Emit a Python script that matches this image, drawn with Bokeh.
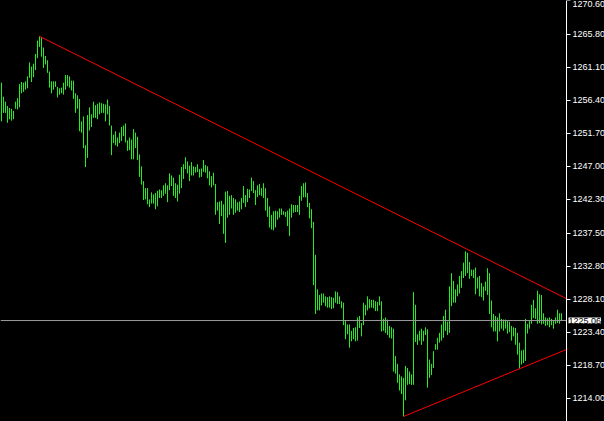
from bokeh.plotting import figure
from bokeh.models import (ColumnDataSource, Range1d, FixedTicker, PrintfTickFormatter,
                          Label, GlobalInlineStyleSheet)
from bokeh.embed import file_html
from bokeh.resources import INLINE

# ---- data (bar highs / lows, oldest first) ----
highs = [
    1258.9, 1256.9, 1256.2, 1255.6, 1255.3, 1255.2, 1254.9, 1256.2, 1256.7, 1258.7,
    1259.0, 1258.9, 1259.1, 1259.8, 1261.8, 1261.2, 1261.6, 1263.0, 1264.9, 1265.5,
    1265.4, 1263.9, 1262.7, 1262.1, 1260.5, 1259.1, 1259.1, 1259.1, 1258.3, 1258.1,
    1258.2, 1258.9, 1260.0, 1260.0, 1259.8, 1259.2, 1259.2, 1257.4, 1257.1, 1256.6,
    1253.4, 1254.1, 1250.0, 1254.3, 1255.4, 1254.4, 1256.2,
    1255.7, 1255.9, 1256.1, 1256.0, 1255.9, 1255.8, 1256.5, 1255.6, 1252.8, 1251.5,
    1252.0, 1251.1, 1251.8, 1252.6, 1252.8, 1253.1, 1250.7, 1251.1, 1250.8, 1252.3,
    1251.8, 1251.2, 1248.7, 1247.0, 1244.9, 1243.9, 1243.9, 1242.3, 1243.3, 1243.0,
    1243.2, 1243.5, 1243.7, 1243.6, 1244.3, 1244.6, 1244.3, 1246.0, 1245.7, 1245.4,
    1244.6, 1244.4, 1245.8, 1246.9, 1247.3, 1248.3, 1247.7, 1247.1,
    1247.6, 1247.0, 1246.9, 1247.3, 1246.6, 1246.7, 1247.9, 1247.2, 1247.0, 1246.3,
    1245.6, 1246.1, 1244.5, 1241.9, 1242.0, 1242.1, 1241.6, 1243.4, 1243.5, 1242.8,
    1242.9, 1242.5, 1242.3, 1241.9, 1242.0, 1242.5, 1244.2, 1242.9, 1243.8, 1243.7,
    1245.4, 1244.9, 1243.6, 1244.3, 1244.5, 1243.9, 1244.6, 1243.9, 1242.5, 1241.3,
    1240.1, 1240.6, 1240.7, 1240.6, 1241.0, 1241.0, 1240.6,
    1240.5, 1240.7, 1241.0, 1241.6, 1241.5, 1241.5, 1241.5, 1242.8, 1244.2, 1244.6,
    1244.7, 1243.2, 1241.8, 1240.9, 1239.1, 1234.4, 1229.5, 1228.7, 1228.9, 1228.9,
    1228.5, 1228.4, 1228.5, 1228.4, 1228.3, 1229.2, 1229.1, 1228.5, 1227.8, 1227.6,
    1225.1, 1224.5, 1224.5, 1223.6, 1224.0, 1224.1, 1225.5, 1225.7, 1224.7, 1227.6,
    1227.3, 1228.5, 1228.1, 1228.0, 1228.0, 1227.8, 1227.7, 1228.5,
    1227.8, 1225.3, 1225.5, 1225.2, 1224.3, 1224.1, 1223.9, 1220.0, 1218.9, 1217.4,
    1217.1, 1216.9, 1218.6, 1218.3, 1217.8, 1217.4, 1229.1, 1227.3, 1223.1, 1223.6,
    1223.9, 1223.6, 1224.1, 1223.8, 1219.5, 1218.9, 1220.7, 1221.7, 1222.6, 1223.3,
    1224.5, 1225.7, 1226.6, 1224.9, 1229.9, 1231.8, 1230.7, 1229.5, 1230.2, 1231.4,
    1232.1, 1233.3, 1234.9, 1234.7, 1233.4, 1232.3, 1232.3,
    1232.6, 1231.2, 1231.4, 1230.4, 1229.9, 1230.6, 1232.5, 1231.8, 1227.9, 1226.0,
    1225.7, 1225.5, 1226.1, 1225.3, 1225.2, 1225.2, 1225.0, 1224.9, 1224.3, 1224.1,
    1224.0, 1223.3, 1221.9, 1220.8, 1220.9, 1225.3, 1224.6, 1225.0, 1227.3, 1228.0,
    1226.8, 1229.3, 1228.8, 1228.7, 1226.1, 1225.5, 1225.4, 1225.5, 1225.3, 1225.0,
    1225.5, 1226.6, 1226.1, 1226.1,
]
lows = [
    1253.4, 1254.6, 1254.6, 1253.2, 1253.7, 1253.5, 1253.7, 1255.2, 1255.1, 1255.4,
    1257.4, 1257.6, 1257.9, 1258.1, 1259.6, 1259.0, 1259.7, 1260.7, 1262.4, 1264.0,
    1262.6, 1261.0, 1261.5, 1260.3, 1258.2, 1257.4, 1257.9, 1258.3, 1256.8, 1257.2,
    1257.4, 1257.2, 1257.9, 1258.4, 1258.2, 1257.8, 1256.6, 1254.6, 1255.2, 1252.0,
    1251.8, 1249.6, 1246.9, 1248.2, 1252.1, 1252.6, 1253.9,
    1253.9, 1253.7, 1254.4, 1254.6, 1254.6, 1253.4, 1254.4, 1252.8, 1248.6, 1250.3,
    1250.0, 1249.8, 1250.3, 1250.6, 1251.3, 1250.4, 1249.2, 1249.3, 1248.0, 1248.0,
    1249.6, 1247.9, 1245.5, 1244.4, 1242.2, 1242.3, 1241.6, 1241.2, 1241.7, 1241.7,
    1240.9, 1241.3, 1242.5, 1242.5, 1242.8, 1243.1, 1241.9, 1243.6, 1244.2, 1242.8,
    1242.5, 1242.0, 1243.1, 1243.9, 1245.2, 1246.6, 1246.0, 1244.9,
    1245.7, 1245.7, 1246.1, 1246.2, 1245.4, 1245.5, 1246.2, 1246.1, 1245.3, 1244.3,
    1244.0, 1244.3, 1240.1, 1240.7, 1238.8, 1239.9, 1237.4, 1236.1, 1239.7, 1240.1,
    1241.0, 1240.1, 1240.4, 1240.7, 1240.5, 1240.9, 1241.8, 1241.2, 1241.9, 1242.5,
    1243.5, 1243.2, 1241.5, 1242.6, 1242.9, 1242.8, 1242.5, 1240.7, 1239.8, 1238.3,
    1238.0, 1237.9, 1238.3, 1239.4, 1239.7, 1240.1, 1240.1,
    1239.8, 1238.5, 1237.1, 1239.7, 1240.4, 1240.5, 1240.5, 1240.1, 1242.1, 1242.6,
    1242.6, 1241.2, 1239.6, 1238.2, 1230.1, 1226.0, 1226.5, 1226.5, 1227.2, 1227.6,
    1227.1, 1226.9, 1226.9, 1226.7, 1226.8, 1227.6, 1227.4, 1227.4, 1226.8, 1224.4,
    1222.4, 1223.1, 1221.2, 1222.1, 1222.4, 1222.1, 1222.2, 1224.0, 1222.8, 1224.4,
    1225.8, 1226.5, 1226.8, 1226.9, 1226.8, 1226.4, 1226.4, 1227.2,
    1223.5, 1223.6, 1223.3, 1223.0, 1222.6, 1222.5, 1217.8, 1217.5, 1216.2, 1215.1,
    1214.6, 1211.4, 1213.7, 1215.9, 1216.0, 1215.9, 1215.9, 1222.0, 1221.6, 1222.2,
    1221.6, 1222.1, 1223.0, 1215.5, 1216.9, 1217.3, 1218.3, 1220.9, 1220.9, 1221.9,
    1222.2, 1222.6, 1223.6, 1223.0, 1223.3, 1227.1, 1227.6, 1227.6, 1228.5, 1228.9,
    1229.7, 1231.1, 1231.4, 1231.8, 1231.0, 1231.4, 1231.1,
    1228.8, 1229.6, 1228.5, 1228.4, 1227.9, 1229.3, 1228.7, 1226.0, 1224.1, 1223.5,
    1223.5, 1222.1, 1223.5, 1223.9, 1223.6, 1223.9, 1223.2, 1223.4, 1222.2, 1222.8,
    1221.6, 1220.2, 1218.2, 1218.8, 1219.0, 1219.3, 1223.2, 1223.9, 1224.6, 1225.4,
    1225.3, 1224.6, 1224.7, 1224.5, 1224.6, 1224.3, 1224.4, 1224.1, 1224.4, 1223.9,
    1224.6, 1224.7, 1224.6, 1225.0,
]
assert len(highs) == len(lows), (len(highs), len(lows))
bar_index = list(range(len(highs)))

# trend lines (bar index, price)
upper_trend_x = [19, 283]
upper_trend_y = [1265.5, 1228.1]
lower_trend_x = [201, 283]
lower_trend_y = [1211.4, 1221.0]

bid_price = 1225.06
price_ticks = [1270.6, 1265.8, 1261.1, 1256.4, 1251.7, 1247.0, 1242.3,
               1237.5, 1232.8, 1228.1, 1223.4, 1218.7, 1214.0]

# chart window: bar slots, the price scale sits right after the last slot
x_start, x_end = -0.5, 301.5
axis_at = 282.5
y_low, y_high = 1210.69, 1270.6

BAR_COLOR = "#22ee22"
LABEL_FONT = "Liberation Sans"
LABEL_SIZE = "9px"

page_css = GlobalInlineStyleSheet(css="html, body { margin:0; padding:0; background:#000; overflow:hidden; }")

p = figure(frame_width=604, frame_height=421,
           x_range=Range1d(x_start, x_end), y_range=Range1d(y_low, y_high),
           x_axis_location=None, y_axis_location="right",
           output_backend="svg", toolbar_location=None,
           background_fill_color="black", border_fill_color="black",
           min_border_left=0, min_border_right=0, min_border_top=0, min_border_bottom=0,
           outline_line_color=None)
p.stylesheets = [page_css]
p.grid.visible = False

src = ColumnDataSource(dict(x=bar_index, high=highs, low=lows))
p.segment(x0="x", y0="low", x1="x", y1="high", source=src,
          line_color=BAR_COLOR, line_width=1)

p.line(upper_trend_x, upper_trend_y, line_color="#ff0000", line_width=1)
p.line(lower_trend_x, lower_trend_y, line_color="#ff0000", line_width=1)

# bid price line up to the price scale
p.segment(x0=[x_start], y0=[bid_price], x1=[axis_at], y1=[bid_price],
          line_color="#9a9a9a", line_width=1)

ax = p.yaxis[0]
ax.fixed_location = axis_at
ax.ticker = FixedTicker(ticks=price_ticks)
ax.formatter = PrintfTickFormatter(format="%.2f")
ax.axis_line_color = "white"
ax.major_tick_line_color = "white"
ax.major_tick_in = 0
ax.major_tick_out = 4
ax.minor_tick_line_color = None
ax.major_label_text_color = "white"
ax.major_label_text_font = LABEL_FONT
ax.major_label_text_font_size = LABEL_SIZE
ax.major_label_standoff = 2

p.add_layout(Label(x=axis_at, y=bid_price, text="%.2f" % bid_price, x_offset=2,
                   text_baseline="middle", text_align="left",
                   text_font=LABEL_FONT, text_font_size=LABEL_SIZE,
                   text_color="black", background_fill_color="white"))

open("out.html", "w").write(file_html(p, INLINE))
